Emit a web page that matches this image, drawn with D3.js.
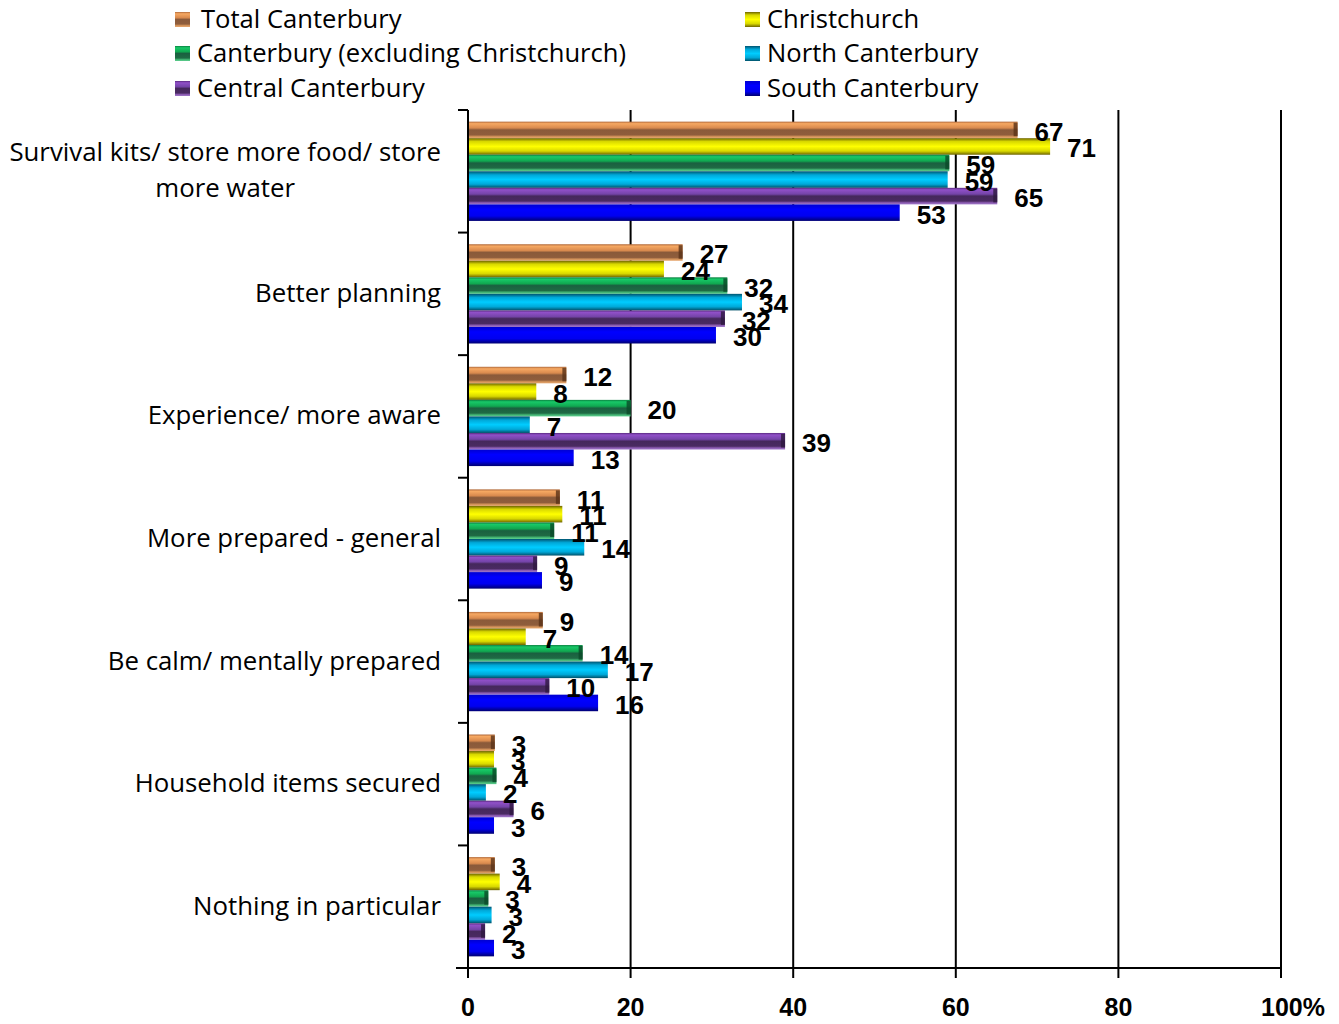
<html>
<head>
<script src="https://d3js.org/d3.v7.min.js"></script>
<style>
  body { margin: 0; background: #fff; }
  svg text { font-family: "Liberation Sans", Arial, sans-serif; fill: #000; }
  .cat { font-family: "Open Sans", sans-serif !important; font-size: 25.8px; }
  .leg { font-family: "Open Sans", sans-serif !important; font-size: 25.6px; }
  .val { font-size: 26px; font-weight: bold; }
  .tick { font-size: 25px; font-weight: bold; }
</style>
</head>
<body>
<svg width="1339" height="1024"></svg>
<script>
let categories = [
  'Survival kits/ store more food/ store\nmore water',
  'Better planning',
  'Experience/ more aware',
  'More prepared - general',
  'Be calm/ mentally prepared',
  'Household items secured',
  'Nothing in particular'
]
let seriesNames = ['Total Canterbury', 'Christchurch', 'Canterbury (excluding Christchurch)',
  'North Canterbury', 'Central Canterbury', 'South Canterbury']

// bar lengths (% as drawn)
let totalCanterbury = [67.6, 26.4, 12.1, 11.3, 9.2, 3.3, 3.3]
let christchurch = [71.6, 24.1, 8.4, 11.6, 7.1, 3.2, 3.9]
let canterburyExChch = [59.2, 31.9, 20.0, 10.6, 14.1, 3.5, 2.5]
let northCanterbury = [59.0, 33.7, 7.6, 14.3, 17.2, 2.2, 2.9]
let centralCanterbury = [65.1, 31.6, 39.0, 8.5, 10.0, 5.6, 2.1]
let southCanterbury = [53.1, 30.5, 13.0, 9.1, 16.0, 3.2, 3.2]

// data labels as printed
let totalCanterburyLabels = [67, 27, 12, 11, 9, 3, 3]
let christchurchLabels = [71, 24, 8, 11, 7, 3, 4]
let canterburyExChchLabels = [59, 32, 20, 11, 14, 4, 3]
let northCanterburyLabels = [59, 34, 7, 14, 17, 2, 3]
let centralCanterburyLabels = [65, 32, 39, 9, 10, 6, 2]
let southCanterburyLabels = [53, 30, 13, 9, 16, 3, 3]

let xTicks = [0, 20, 40, 60, 80, 100]

let seriesValues = [totalCanterbury, christchurch, canterburyExChch, northCanterbury, centralCanterbury, southCanterbury]
let seriesLabels = [totalCanterburyLabels, christchurchLabels, canterburyExChchLabels,
  northCanterburyLabels, centralCanterburyLabels, southCanterburyLabels]

// gradient stops per series (3D bevel look)
let gradStops = [
  [['0', '#b06a3c'], ['0.12', '#f6a862'], ['0.38', '#d98a4e'], ['0.5', '#8a5a3a'], ['0.8', '#8f5d3c'], ['0.9', '#d09058'], ['1', '#e8a870']],
  [['0', '#6e6400'], ['0.2', '#d8d800'], ['0.5', '#ffff00'], ['0.78', '#d8d800'], ['1', '#6e6400']],
  [['0', '#0a8040'], ['0.12', '#18c868'], ['0.38', '#10a850'], ['0.5', '#1a6040'], ['0.8', '#1f6a44'], ['0.9', '#40b070'], ['1', '#60d090']],
  [['0', '#005470'], ['0.22', '#00a8d8'], ['0.5', '#00ccff'], ['0.78', '#00a8d8'], ['1', '#005068']],
  [['0', '#5a2a80'], ['0.12', '#9050c8'], ['0.38', '#7444a8'], ['0.5', '#45285c'], ['0.8', '#4a2a62'], ['0.9', '#8a5ab0'], ['1', '#a078c8']],
  [['0', '#0000d0'], ['0.3', '#0000ff'], ['0.7', '#0000f0'], ['1', '#000070']]
]
let capColor = ['#5a3218', null, '#0a4a28', null, '#2e1840', null]

let svg = d3.select('svg')
let margin = {left: 468, right: 58, top: 110, bottom: 56}
let width = 1339 - margin.left - margin.right,
    height = 1024 - margin.top - margin.bottom

let defs = svg.append('defs')
gradStops.forEach((stops, i) => {
  let g = defs.append('linearGradient').attr('id', 'g' + i)
    .attr('x1', 0).attr('y1', 0).attr('x2', 0).attr('y2', 1)
  stops.forEach(s => g.append('stop').attr('offset', s[0]).attr('stop-color', s[1]))
})

let x = d3.scaleLinear().domain([0, 100]).range([margin.left, margin.left + width])
let y0 = d3.scaleBand().domain(categories).range([margin.top, margin.top + height])
  .paddingInner(0.19).paddingOuter(0.095)
let y1 = d3.scaleBand().domain(d3.range(seriesNames.length)).range([0, y0.bandwidth()])

// gridlines
svg.selectAll('.grid').data(xTicks.slice(1)).enter().append('line')
  .attr('x1', d => x(d)).attr('x2', d => x(d))
  .attr('y1', margin.top).attr('y2', margin.top + height)
  .attr('stroke', '#000').attr('stroke-width', 2)

// bars
let rows = []
categories.forEach((c, ci) => seriesValues.forEach((vals, si) =>
  rows.push({c: c, s: si, v: vals[ci], lab: seriesLabels[si][ci]})))

let bars = svg.append('g')
bars.selectAll('rect.bar').data(rows).enter().append('rect')
  .attr('class', 'bar')
  .attr('x', x(0))
  .attr('y', d => y0(d.c) + y1(d.s))
  .attr('width', d => x(d.v) - x(0))
  .attr('height', y1.bandwidth())
  .attr('fill', d => 'url(#g' + d.s + ')')

// darker end caps for the bevelled series
bars.selectAll('rect.cap').data(rows.filter(d => capColor[d.s])).enter().append('rect')
  .attr('class', 'cap')
  .attr('x', d => x(d.v) - 4)
  .attr('y', d => y0(d.c) + y1(d.s) + 1)
  .attr('width', 4)
  .attr('height', y1.bandwidth() - 3)
  .attr('fill', d => capColor[d.s])
  .attr('opacity', 0.8)

// value labels
svg.append('g').selectAll('text').data(rows).enter().append('text')
  .attr('class', 'val')
  .attr('x', d => x(d.v) + 17)
  .attr('y', d => y0(d.c) + y1(d.s) + y1.bandwidth() / 2 + 11)
  .text(d => d.lab)

// left axis
let step = height / categories.length
svg.append('line').attr('x1', x(0)).attr('x2', x(0))
  .attr('y1', margin.top).attr('y2', margin.top + height)
  .attr('stroke', '#000').attr('stroke-width', 2)
svg.selectAll('.ytick').data(d3.range(categories.length + 1)).enter().append('line')
  .attr('x1', x(0) - 10).attr('x2', x(0))
  .attr('y1', i => margin.top + i * step).attr('y2', i => margin.top + i * step)
  .attr('stroke', '#000').attr('stroke-width', 2)

// category labels
categories.forEach(c => {
  let lines = c.split('\n')
  let cy = y0(c) + y0.bandwidth() / 2
  let t = svg.append('text').attr('class', 'cat').attr('text-anchor', 'end')
  lines.forEach((l, i) => {
    t.append('tspan').attr('x', 441)
      .attr('y', cy + 8 + (i - (lines.length - 1) / 2) * 36)
      .text(l)
  })
  if (lines.length > 1) {
    let w = d3.max(t.selectAll('tspan').nodes(), n => n.getComputedTextLength())
    t.attr('text-anchor', 'middle').selectAll('tspan').attr('x', 441 - w / 2)
  }
})

// bottom axis
let yb = margin.top + height
svg.append('line').attr('x1', x(0) - 12).attr('x2', x(100))
  .attr('y1', yb).attr('y2', yb).attr('stroke', '#000').attr('stroke-width', 2)
svg.selectAll('.xtick').data(xTicks).enter().append('line')
  .attr('x1', d => x(d)).attr('x2', d => x(d))
  .attr('y1', yb).attr('y2', yb + 10)
  .attr('stroke', '#000').attr('stroke-width', 2)
svg.selectAll('.xlab').data(xTicks).enter().append('text')
  .attr('class', 'tick')
  .attr('x', d => x(d))
  .attr('y', yb + 48)
  .attr('text-anchor', d => d === 100 ? 'start' : 'middle')
  .attr('dx', d => d === 100 ? -20 : 0)
  .text(d => d === 100 ? '100%' : d)

// legend
let legPos = [[175, 20], [745, 20], [175, 54], [745, 54], [175, 89], [745, 89]]
seriesNames.forEach((n, i) => {
  let p = legPos[i]
  svg.append('rect').attr('x', p[0]).attr('y', p[1] - 8).attr('width', 15).attr('height', 15)
    .attr('fill', 'url(#g' + i + ')')
  svg.append('text').attr('class', 'leg')
    .attr('x', p[0] + (i === 0 ? 26 : 22)).attr('y', p[1] + 8)
    .text(n)
})
</script>
</body>
</html>
